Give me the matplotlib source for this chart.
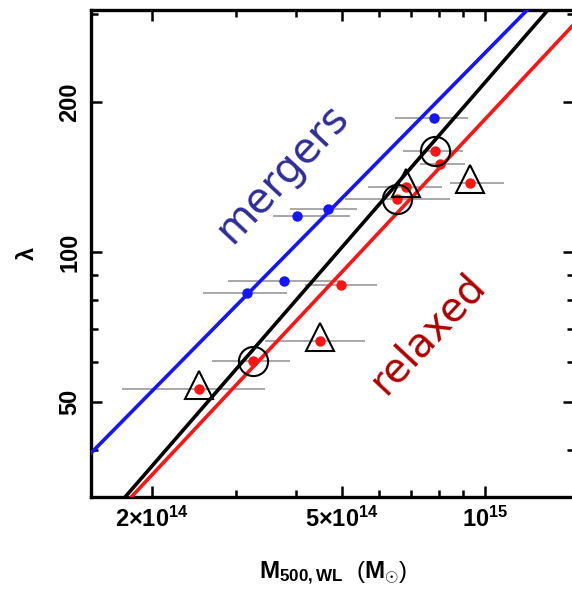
import matplotlib.pyplot as plt
import numpy as np
from matplotlib.ticker import FixedLocator, FixedFormatter, NullFormatter

plt.rcParams['font.family'] = ['Liberation Sans', 'DejaVu Sans']
plt.rcParams['font.weight'] = 'bold'
plt.rcParams['mathtext.fontset'] = 'custom'
plt.rcParams['mathtext.rm'] = 'Liberation Sans:bold'
plt.rcParams['mathtext.it'] = 'Liberation Sans:bold'
plt.rcParams['mathtext.bf'] = 'Liberation Sans:bold'
plt.rcParams['mathtext.default'] = 'rm'

# merging clusters: mass, richness and mass range
merg_m = np.array([3.16e14, 3.78e14, 4.03e14, 4.68e14, 7.81e14])
merg_lam = np.array([82.7, 87.5, 118.1, 122.0, 185.8])
merg_lo = np.array([2.56e14, 2.88e14, 3.59e14, 3.89e14, 6.47e14])
merg_hi = np.array([3.84e14, 4.96e14, 5.20e14, 5.38e14, 9.21e14])

# relaxed clusters
relax_m = np.array([7.85e14, 8.04e14, 6.82e14, 6.54e14, 9.30e14, 4.98e14, 4.50e14, 3.26e14, 2.51e14])
relax_lam = np.array([159.5, 150.2, 135.1, 127.8, 137.6, 85.8, 66.3, 60.4, 53.1])
relax_lo = np.array([6.73e14, 7.30e14, 5.68e14, 5.08e14, 8.44e14, 4.19e14, 3.45e14, 2.67e14, 1.73e14])
relax_hi = np.array([8.99e14, 9.08e14, 8.12e14, 8.44e14, 1.10e15, 5.93e14, 5.60e14, 3.89e14, 3.45e14])
relax_flag = ['o', '', '^', 'o', '^', '', '^', 'o', '^']

# power-law fits  lambda = norm * (M / 5e14)**slope
fit_names = ['mergers', 'all', 'relaxed']
fit_norm = [128.0, 102.0, 91.0]
fit_slope = [0.97, 1.10, 1.02]
fit_colors = ['#1414ff', 'black', '#ff1414']

xticks = [2e14, 5e14, 1e15]
xticklabels = [r'$2{\times}10^{14}$', r'$5{\times}10^{14}$', r'$10^{15}$']
yticks = [50, 100, 200]

fig = plt.figure(figsize=(5.72, 5.94), dpi=100)
ax = fig.add_axes([91 / 572, 97 / 594, 483 / 572, 487 / 594])
ax.set_xscale('log')
ax.set_yscale('log')
ax.set_xlim(1.486e14, 1.54e15)
ax.set_ylim(32.2, 306)

mgrid = np.logspace(14, 15.4, 200)
for name, norm, slope, c in zip(fit_names, fit_norm, fit_slope, fit_colors):
    ax.plot(mgrid, norm * (mgrid / 5e14) ** slope, color=c, lw=2.6, zorder=3)

ax.errorbar(merg_m, merg_lam, xerr=[merg_m - merg_lo, merg_hi - merg_m],
            fmt='none', ecolor='#a0a0a0', elinewidth=1.3, capsize=0, zorder=1)
ax.errorbar(relax_m, relax_lam, xerr=[relax_m - relax_lo, relax_hi - relax_m],
            fmt='none', ecolor='#a0a0a0', elinewidth=1.3, capsize=0, zorder=1)

ax.plot(merg_m, merg_lam, 'o', color='#1414ff', ms=7.5, mec='none', zorder=4)
ax.plot(relax_m, relax_lam, 'o', color='#ff1414', ms=7.5, mec='none', zorder=4)

# open symbols around the flagged relaxed clusters
for m, lam, f in zip(relax_m, relax_lam, relax_flag):
    if f == 'o':
        ax.plot(m, lam, 'o', ms=21, mfc='none', mec='black', mew=1.5, zorder=5)
    elif f == '^':
        ax.plot(m, lam * 1.02, '^', ms=20, mfc='none', mec='black', mew=1.5, zorder=5)

ax.text(0.395, 0.665, 'mergers', transform=ax.transAxes, color='#2e2e9a',
        fontsize=30, fontweight='normal', family='DejaVu Sans',
        rotation=47, ha='center', va='center')
ax.text(0.697, 0.335, 'relaxed', transform=ax.transAxes, color='#b00000',
        fontsize=29, fontweight='normal', family='DejaVu Sans',
        rotation=47, ha='center', va='center')

ax.xaxis.set_major_locator(FixedLocator(xticks))
ax.xaxis.set_major_formatter(FixedFormatter(xticklabels))
ax.xaxis.set_minor_locator(FixedLocator([3e14, 4e14, 6e14, 7e14, 8e14, 9e14]))
ax.xaxis.set_minor_formatter(NullFormatter())
ax.yaxis.set_major_locator(FixedLocator(yticks))
ax.yaxis.set_major_formatter(FixedFormatter([str(v) for v in yticks]))
ax.yaxis.set_minor_locator(FixedLocator([40, 60, 70, 80, 90, 300]))
ax.yaxis.set_minor_formatter(NullFormatter())

ax.tick_params(which='both', direction='in', top=True, right=True, width=1.8)
ax.tick_params(which='major', length=8, labelsize=17, pad=7)
ax.tick_params(which='minor', length=5)
ax.tick_params(axis='y', which='major', labelrotation=90)
for lab in ax.get_yticklabels():
    lab.set_va('center')
for s in ax.spines.values():
    s.set_linewidth(2.4)

ax.set_xlabel(r'$M_{500,WL}$  ($M_{\odot}$)', fontsize=17.5, labelpad=20)
ax.set_ylabel(r'$\lambda$', fontsize=17, labelpad=14)

fig.savefig('out.png', dpi=100)
